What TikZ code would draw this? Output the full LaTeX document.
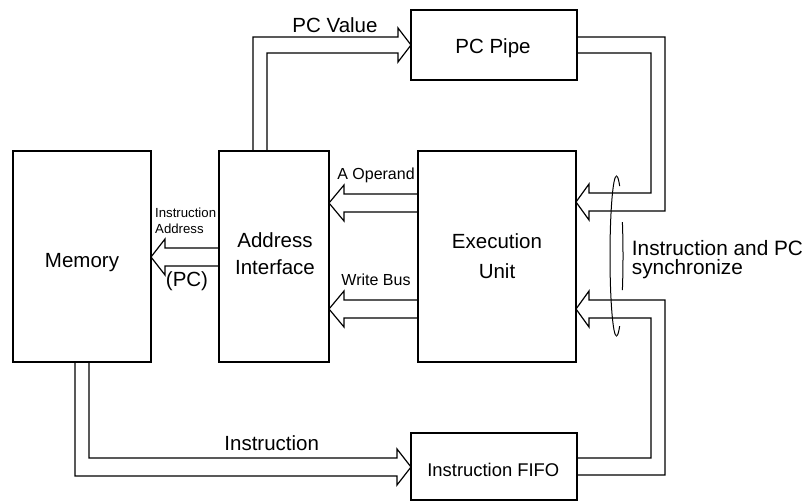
\documentclass[tikz,border=0pt]{standalone}
\usepackage{fontspec}
\setmainfont{Liberation Sans}
\begin{document}
\begin{tikzpicture}[x=1pt,y=-1pt,
  blk/.style={draw,line width=2.2pt,inner sep=0pt},
  bus/.style={draw,line width=1.2pt,line join=miter},
  ring/.style={draw,line width=1pt},
  big/.style={inner sep=0pt,font=\fontsize{20.5}{24}\selectfont},
  mid/.style={inner sep=0pt,font=\fontsize{16}{19}\selectfont},
  small/.style={inner sep=0pt,font=\fontsize{13.2}{16}\selectfont}]
\useasboundingbox (0,0) rectangle (808,503);

% boxes
\node[blk,minimum width=138pt,minimum height=211pt] (mem) at (82,256.5) {};
\node[blk,minimum width=110pt,minimum height=211pt] (ai) at (274,256.5) {};
\node[blk,minimum width=158pt,minimum height=211pt] (ex) at (497,256.5) {};
\node[blk,minimum width=166pt,minimum height=70pt] (pc) at (494,45) {};
\node[blk,minimum width=166pt,minimum height=67pt] (fifo) at (494,466.5) {};

% box texts
\node[big,anchor=base] (memt) at (82,267) {Memory};
\node[big,align=center,font=\fontsize{20.5}{27.7}\selectfont] (ait) at (275,253.6) {Address\\Interface};
\node[big,align=center,font=\fontsize{20.5}{30}\selectfont] (ext) at (497,256) {Execution\\Unit};
\node[big,anchor=base] (pct) at (493,53.3) {PC Pipe};
\node[inner sep=0pt,font=\fontsize{18.4}{22}\selectfont,anchor=base] (fifot) at (493.3,476.7) {Instruction FIFO};

% synchronisation ring (right half partly hidden behind the buses)
\begin{scope}
  \clip (616.5,170) rectangle (632,186) (616.5,222) rectangle (632,290) (616.5,326) rectangle (632,342);
  \draw[ring] (616.5,256) ellipse [x radius=6.5, y radius=80];
\end{scope}
\begin{scope}
  \clip (600,168) rectangle (616.5,342);
  \draw[ring] (616.5,256) ellipse [x radius=6.5, y radius=80];
\end{scope}

% hollow bus arrows
% Address Interface -> PC Pipe
\draw[bus] (253,151) -- (253,37) -- (398,37) -- (398,28) -- (411,45) -- (398,62) -- (398,53) -- (267,53) -- (267,151);
% PC Pipe -> Execution Unit
\draw[bus] (577,53) -- (651,53) -- (651,193) -- (589,193) -- (589,184) -- (576,202) -- (589,220) -- (589,211) -- (665,211) -- (665,37) -- (577,37);
% Instruction FIFO -> Execution Unit
\draw[bus] (577,458) -- (651,458) -- (651,318) -- (589,318) -- (589,327) -- (576,309) -- (589,291) -- (589,300) -- (665,300) -- (665,475) -- (577,475);
% Memory -> Instruction FIFO
\draw[bus] (89,362) -- (89,458) -- (397,458) -- (397,449) -- (411,467) -- (397,485) -- (397,476) -- (75,476) -- (75,362);
% Execution Unit -> Address Interface (A Operand)
\draw[bus] (418,194) -- (344,194) -- (344,185) -- (329,203) -- (344,221) -- (344,212) -- (418,212);
% Execution Unit -> Address Interface (Write Bus)
\draw[bus] (418,300) -- (344,300) -- (344,291) -- (329,309) -- (344,327) -- (344,318) -- (418,318);
% Address Interface -> Memory
\draw[bus] (219,248) -- (165,248) -- (165,239) -- (151,257) -- (165,275) -- (165,266) -- (219,266);

% bus labels
\node[big,anchor=base] (pcv) at (335,32.3) {PC Value};
\node[big,anchor=base] (instr) at (271.7,450.7) {Instruction};
\node[mid,anchor=base] (aop) at (376,179.3) {A Operand};
\node[mid,anchor=base] (wb) at (376,285) {Write Bus};
\node[small,align=left,anchor=west] (ia) at (155,220.4) {Instruction\\Address};
\node[big,anchor=base] (pcl) at (187,286) {(PC)};
\node[big,align=left,anchor=west,font=\fontsize{20.8}{18.5}\selectfont] (sync) at (631.7,259.5) {Instruction and PC\\synchronize};
\end{tikzpicture}
\end{document}
